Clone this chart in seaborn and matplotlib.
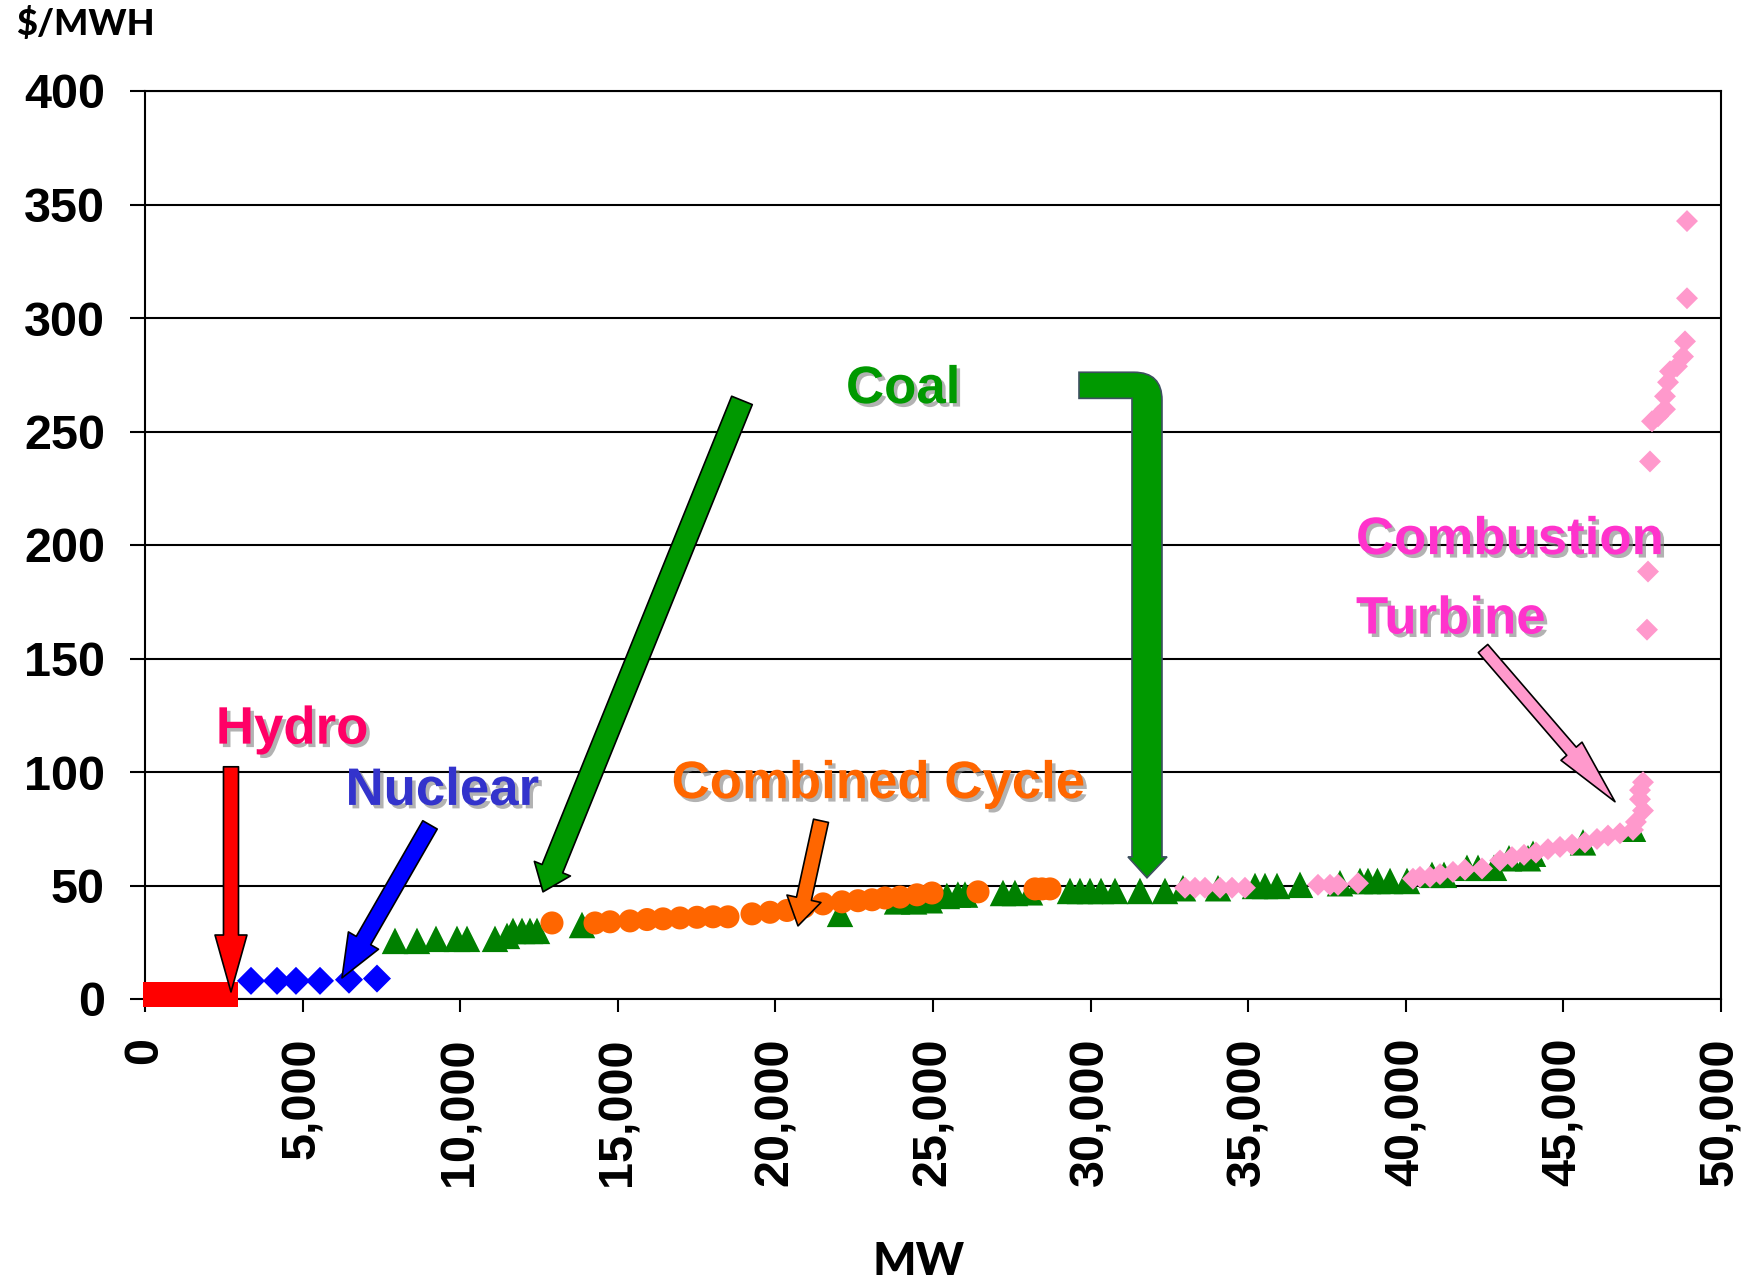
import matplotlib
matplotlib.use("Agg")
import matplotlib.pyplot as plt
import matplotlib.patheffects as pe
from matplotlib.patches import FancyArrowPatch, PathPatch, ArrowStyle
from matplotlib.path import Path
import seaborn as sns
import pandas as pd

# ---- supply stack data (MW of cumulative capacity, $/MWh) ----
hydro_mw = [330, 650, 1000, 1350, 1700, 2050, 2400, 2540]
hydro_cost = [2.0, 2.0, 2.0, 2.0, 2.0, 2.0, 2.0, 2.0]

nuclear_mw = [3363, 4188, 4790, 5552, 6472, 7360]
nuclear_cost = [8.0, 8.0, 8.0, 8.0, 8.5, 9.0]

coal_mw = [7931, 8629, 9232, 9898, 10216, 11104, 11485, 11675, 11961, 12214,
           12437, 13864, 22050, 23860, 24400, 24900, 25440, 25790, 26015,
           27220, 27600, 28077, 29346, 29663, 29981, 30330, 30774, 31567,
           32360, 32931, 34042, 35216, 35533, 35914, 36643, 37912, 38547,
           38800, 39100, 39500, 40038, 40831, 41212, 41941, 42291, 42798,
           43274, 43877, 44036, 45622, 47208]
coal_cost = [25.6, 25.6, 26.5, 26.5, 26.5, 26.5, 27.8, 30.0, 30.0, 30.0,
             30.0, 32.6, 37.5, 43.0, 43.0, 43.5, 45.4, 46.0, 46.0,
             46.7, 46.7, 47.0, 47.6, 47.6, 47.6, 47.6, 47.6, 47.6,
             47.6, 48.8, 48.8, 49.8, 49.8, 49.8, 50.3, 51.0, 52.0,
             52.0, 52.0, 52.0, 52.0, 54.7, 54.7, 57.8, 57.8, 57.8,
             62.0, 62.0, 64.0, 69.0, 75.0]

cc_mw = [12912, 14277, 14753, 15387, 15926, 16434, 16973, 17513, 18020, 18496,
         19258, 19829, 20368, 20900, 21510, 22113, 22621, 23065, 23477, 23953,
         24492, 24968, 26428, 28236, 28458, 28712]
cc_cost = [33.5, 33.5, 34.0, 34.4, 35.0, 35.3, 35.7, 36.0, 36.2, 36.2,
           37.5, 38.2, 39.0, 40.5, 41.9, 42.8, 43.3, 43.7, 44.5, 44.9,
           45.9, 46.7, 47.2, 48.5, 48.5, 48.5]

ct_mw = [32995, 33312, 33629, 34105, 34486, 34898, 37214, 37595, 37849, 38484,
         40228, 40450, 40768, 41085, 41497, 41878, 42418, 42989, 43369, 43750,
         44131, 44511, 44892, 45273, 45685, 46066, 46415, 46796, 47208, 47300,
         47525, 47430, 47430, 47525, 47652, 47684, 47747, 47811, 48001, 48223,
         48223, 48319, 48382, 48604, 48795, 48858, 48921, 48921]
ct_cost = [49.0, 49.0, 49.0, 49.0, 49.0, 49.0, 50.3, 50.3, 50.3, 51.0,
           53.0, 53.8, 53.8, 55.0, 56.0, 57.0, 57.5, 61.0, 62.5, 63.5,
           64.5, 66.0, 67.0, 68.0, 69.0, 70.5, 72.0, 73.0, 74.5, 78.0,
           83.0, 88.0, 92.0, 95.5, 162.7, 188.3, 236.8, 254.5, 256.7, 259.8,
           265.5, 271.7, 276.5, 278.7, 283.0, 289.7, 308.7, 342.7]

x_ticks = [0, 5000, 10000, 15000, 20000, 25000, 30000, 35000, 40000, 45000, 50000]
x_tick_labels = ["0", "5,000", "10,000", "15,000", "20,000", "25,000",
                 "30,000", "35,000", "40,000", "45,000", "50,000"]
y_ticks = [0, 50, 100, 150, 200, 250, 300, 350, 400]
y_tick_labels = ["0", "50", "100", "150", "200", "250", "300", "350", "400"]

sources = ["Hydro", "Nuclear", "Coal", "Combined Cycle", "Combustion Turbine"]
palette = {"Hydro": "#FF0000", "Nuclear": "#0000FF", "Coal": "#008000",
           "Combined Cycle": "#FF6600", "Combustion Turbine": "#FF99CC"}
markers = {"Hydro": "s", "Nuclear": "D", "Coal": "^",
           "Combined Cycle": "o", "Combustion Turbine": "D"}
sizes = {"Hydro": 324, "Nuclear": 204, "Coal": 364,
         "Combined Cycle": 275, "Combustion Turbine": 125}

frames = []
for name, xs, ys in [("Hydro", hydro_mw, hydro_cost),
                     ("Nuclear", nuclear_mw, nuclear_cost),
                     ("Coal", coal_mw, coal_cost),
                     ("Combined Cycle", cc_mw, cc_cost),
                     ("Combustion Turbine", ct_mw, ct_cost)]:
    frames.append(pd.DataFrame({"MW": xs, "cost": ys, "source": name}))
stack = pd.concat(frames, ignore_index=True)

sns.set_style("white")
plt.rcParams["font.family"] = ["Liberation Sans", "DejaVu Sans"]
plt.rcParams["text.color"] = "black"
plt.rcParams["xtick.color"] = "black"
plt.rcParams["ytick.color"] = "black"
plt.rcParams["xtick.labelcolor"] = "black"
plt.rcParams["ytick.labelcolor"] = "black"

W, H = 1747, 1282
fig = plt.figure(figsize=(W / 100, H / 100), dpi=100)
ax = fig.add_axes([145 / W, 1 - 999 / H, (1721 - 145) / W, (999 - 91) / H])

sns.scatterplot(data=stack, x="MW", y="cost", hue="source", style="source",
                size="source", palette=palette, markers=markers, sizes=sizes,
                hue_order=sources, style_order=sources, size_order=sources,
                edgecolor="none", linewidth=0, legend=False, clip_on=False,
                zorder=3, ax=ax)

ax.set_xlim(0, 50000)
ax.set_ylim(0, 400)
ax.set_xticks(x_ticks)
ax.set_xticklabels(x_tick_labels, rotation=90)
ax.set_yticks(y_ticks)
ax.set_yticklabels(y_tick_labels)
ax.set_xlabel("")
ax.set_ylabel("")

for lab in ax.get_xticklabels() + ax.get_yticklabels():
    lab.set_fontfamily("Liberation Sans")
    lab.set_fontweight("bold")
    lab.set_fontsize(35)
    lab.set_color("black")

ax.tick_params(axis="y", direction="out", length=10.8, width=1.5, pad=18,
               color="black", left=True)
ax.tick_params(axis="x", direction="out", length=9.4, width=1.5, pad=18,
               color="black", bottom=True)
ax.yaxis.grid(True, color="black", linewidth=1.5)
ax.xaxis.grid(False)
ax.set_axisbelow(True)
for sp in ax.spines.values():
    sp.set_visible(True)
    sp.set_color("black")
    sp.set_linewidth(1.5)

# axis titles
fig.text(16 / W, 1 - 24 / H, "$/MWH", fontfamily="Lato", fontweight="black",
         fontsize=26, ha="left", va="center", color="black")
fig.text(919 / W, 1 - 1262 / H, "MW", fontfamily="Lato", fontweight="black",
         fontsize=33, ha="center", va="center", color="black")

# category labels with soft drop shadow
shadow = [pe.withSimplePatchShadow(offset=(2.5, -2.5), shadow_rgbFace="#808080",
                                   alpha=0.6)]
label_font = dict(fontfamily="Liberation Sans", fontweight="bold", fontsize=38,
                  va="baseline", path_effects=shadow, zorder=6)
ax.text(24048, 262.5, "Coal", color="#009900", ha="center", **label_font)
ax.text(4664, 112.5, "Hydro", color="#FF0066", ha="center", **label_font)
ax.text(9423, 85.5, "Nuclear", color="#3333CC", ha="center", **label_font)
ax.text(23255, 88.5, "Combined Cycle", color="#FF6600", ha="center", **label_font)
ax.text(38420, 196.0, "Combustion", color="#FF33CC", ha="left", **label_font)
ax.text(38420, 161.0, "Turbine", color="#FF33CC", ha="left", **label_font)


def block_arrow(tail, tip, color, tail_w, head_w, head_l):
    style = ArrowStyle.Simple(head_length=head_l, head_width=head_w,
                              tail_width=tail_w)
    arrow = FancyArrowPatch(tail, tip, arrowstyle=style, mutation_scale=1,
                            shrinkA=0, shrinkB=0, facecolor=color,
                            edgecolor="black", linewidth=1.2, zorder=5,
                            clip_on=False)
    ax.add_patch(arrow)


block_arrow((2728, 102.3), (2728, 3.1), "#FF0000", 10.8, 23, 41)
block_arrow((9042, 76.7), (6250, 9.3), "#0000FF", 12, 25, 31)
block_arrow((18940, 263.7), (12627, 47.2), "#009900", 16, 28, 18)
block_arrow((21447, 78.5), (20717, 32.2), "#FF6600", 11, 25, 20)
block_arrow((42450, 154.4), (46637, 86.9), "#FF99CC", 9, 20, 48)

# bent coal arrow: horizontal stub turning down into the coal block
x_left, x_in, x_out = 29632, 31313, 32265
y_top, y_bot = 276.1, 264.6
head_l, head_r, head_y, tip_x, tip_y = 31186, 32424, 62.6, 31789, 53.4
rx, ry = 888, 12.3
verts = [(x_left, y_top), (x_out - rx, y_top), (x_out, y_top), (x_out, y_top - ry),
         (x_out, head_y), (head_r, head_y), (tip_x, tip_y), (head_l, head_y),
         (x_in, head_y), (x_in, y_bot), (x_left, y_bot), (x_left, y_top)]
codes = [Path.MOVETO, Path.LINETO, Path.CURVE3, Path.CURVE3,
         Path.LINETO, Path.LINETO, Path.LINETO, Path.LINETO,
         Path.LINETO, Path.LINETO, Path.LINETO, Path.CLOSEPOLY]
ax.add_patch(PathPatch(Path(verts, codes), facecolor="#009900",
                       edgecolor="#3D4F5F", linewidth=1.2, zorder=5))

fig.savefig("out.png", dpi=100)
